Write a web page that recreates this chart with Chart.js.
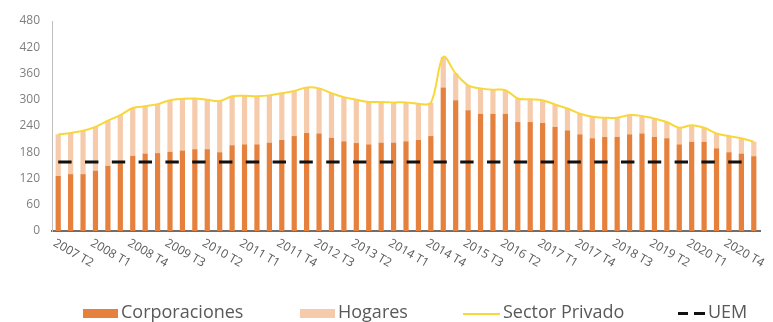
<!DOCTYPE html>
<html>
<head>
<meta charset="utf-8">
<script src="https://cdn.jsdelivr.net/npm/chart.js@4.4.1/dist/chart.umd.min.js"></script>
<style>
    body { margin: 0; background: #fff; }
    #wrap { position: relative; width: 773px; height: 322px; }
    #debt-chart { position: absolute; left: 0; top: 0; }
    .key-text { position: absolute; font-family: 'Open Sans', sans-serif; font-size: 18px; line-height: 24px; color: #595959; white-space: nowrap; }
    .key-mark { position: absolute; }
</style>
</head>
<body>
<div id="wrap">
    <canvas id="debt-chart" width="773" height="322"></canvas>
    <div id="legend"></div>
</div>
<script>
const quarters = [
    '2007 T2', '2007 T3', '2007 T4',
    '2008 T1', '2008 T2', '2008 T3', '2008 T4',
    '2009 T1', '2009 T2', '2009 T3', '2009 T4',
    '2010 T1', '2010 T2', '2010 T3', '2010 T4',
    '2011 T1', '2011 T2', '2011 T3', '2011 T4',
    '2012 T1', '2012 T2', '2012 T3', '2012 T4',
    '2013 T1', '2013 T2', '2013 T3', '2013 T4',
    '2014 T1', '2014 T2', '2014 T3', '2014 T4',
    '2015 T1', '2015 T2', '2015 T3', '2015 T4',
    '2016 T1', '2016 T2', '2016 T3', '2016 T4',
    '2017 T1', '2017 T2', '2017 T3', '2017 T4',
    '2018 T1', '2018 T2', '2018 T3', '2018 T4',
    '2019 T1', '2019 T2', '2019 T3', '2019 T4',
    '2020 T1', '2020 T2', '2020 T3', '2020 T4',
    '2021 T1', '2021 T2',
];

// % del PIB
const corporaciones = [
    126, 130, 130, 138, 149, 155, 172, 177, 178, 181, 184, 187, 187, 180, 196, 198,
    198, 202, 208, 217, 224, 223, 213, 205, 201, 198, 202, 202, 205, 208, 217, 328,
    299, 276, 268, 268, 268, 249, 249, 247, 238, 230, 221, 212, 215, 215, 221, 223,
    215, 212, 198, 204, 204, 189, 180, 177, 171,
];

const hogares = [
    95, 94, 99, 100, 103, 110, 109, 108, 112, 118, 118, 116, 113, 117, 112, 111,
    110, 108, 107, 103, 104, 103, 102, 101, 99, 97, 93, 92, 89, 83, 76, 70,
    61, 57, 58, 55, 54, 54, 52, 52, 51, 50, 47, 49, 44, 44, 44, 40,
    42, 37, 38, 38, 32, 34, 37, 35, 33,
];

const sectorPrivado = [
    221, 224, 229, 238, 252, 265, 281, 285, 290, 299, 302, 303, 300, 297, 308, 309,
    308, 310, 315, 320, 328, 326, 315, 306, 300, 295, 295, 294, 294, 291, 293, 398,
    360, 333, 326, 323, 322, 303, 301, 299, 289, 280, 268, 261, 259, 259, 265, 263,
    257, 249, 236, 242, 236, 223, 217, 212, 204,
];

const uem = [
    158, 158, 158, 158, 158, 158, 158, 158, 158, 158, 158, 158, 158, 158, 158, 158,
    158, 158, 158, 158, 158, 158, 158, 158, 158, 158, 158, 158, 158, 158, 158, 158,
    158, 158, 158, 158, 158, 158, 158, 158, 158, 158, 158, 158, 158, 158, 158, 158,
    158, 158, 158, 158, 158, 158, 158, 158, 158,
];

const yTicks = [0, 60, 120, 180, 240, 300, 360, 420, 480];
const labelEvery = 3;

const colors = {
    corporaciones: '#E5803D',
    hogares: '#F6CBAB',
    privado: '#F8D73A',
    uem: '#111111',
    text: '#595959',
    axis: '#6E6E6E',
};

// rotated quarter labels, hanging down to the right of each tick
const quarterLabels = {
    id: 'quarterLabels',
    afterDraw(chart) {
        const { ctx, scales: { x } } = chart;
        ctx.save();
        ctx.font = "12px 'Open Sans'";
        ctx.fillStyle = colors.text;
        ctx.textAlign = 'left';
        ctx.textBaseline = 'top';
        quarters.forEach((q, i) => {
            if (i % labelEvery) return;
            ctx.save();
            ctx.translate(x.getPixelForValue(i) - 1, x.top + 6);
            ctx.rotate(Math.PI / 6);
            ctx.fillText(q, 0, 0);
            ctx.restore();
        });
        ctx.restore();
    },
};

const chart = new Chart(document.getElementById('debt-chart'), {
    type: 'bar',
    data: {
        labels: quarters,
        datasets: [
            {
                label: 'Corporaciones',
                data: corporaciones,
                backgroundColor: colors.corporaciones,
                stack: 'deuda',
                order: 2,
            },
            {
                label: 'Hogares',
                data: hogares,
                backgroundColor: colors.hogares,
                stack: 'deuda',
                order: 2,
            },
            {
                type: 'line',
                label: 'Sector Privado',
                data: sectorPrivado,
                borderColor: colors.privado,
                borderWidth: 2,
                tension: 0.35,
                pointRadius: 0,
                stack: 'privado',
                order: 1,
            },
            {
                type: 'line',
                label: 'UEM',
                data: uem,
                borderColor: colors.uem,
                borderWidth: 3,
                borderDash: [13.4, 13.4],
                pointRadius: 0,
                stack: 'uem',
                order: 0,
            },
        ],
    },
    options: {
        responsive: false,
        animation: false,
        devicePixelRatio: 1,
        layout: { padding: { top: 21, right: 13, bottom: 0, left: 0 } },
        datasets: {
            bar: { barPercentage: 0.42, categoryPercentage: 1 },
        },
        scales: {
            x: {
                stacked: true,
                grid: { display: false, drawTicks: false },
                border: { display: true, color: colors.axis, width: 2 },
                ticks: { display: false },
                afterFit: scale => { scale.height = 91; },
            },
            y: {
                stacked: true,
                min: 0,
                max: 480,
                grid: { display: false, drawTicks: false },
                border: { display: true, color: '#BFBFBF', width: 1 },
                ticks: {
                    padding: 12,
                    color: '#7F7F7F',
                    font: { family: 'Open Sans', size: 12 },
                },
                afterBuildTicks: scale => { scale.ticks = yTicks.map(v => ({ value: v })); },
                afterFit: scale => { scale.width = 52; },
            },
        },
        plugins: {
            legend: { display: false },
            tooltip: { enabled: false },
        },
    },
    plugins: [quarterLabels],
});

// legend under the chart
const legendItems = [
    { label: 'Corporaciones', kind: 'box', color: colors.corporaciones, left: 83 },
    { label: 'Hogares', kind: 'box', color: colors.hogares, left: 300 },
    { label: 'Sector Privado', kind: 'line', color: colors.privado, left: 463 },
    { label: 'UEM', kind: 'dash', color: colors.uem, left: 678 },
];

const legend = document.getElementById('legend');
legendItems.forEach(item => {
    if (item.kind === 'box') {
        const box = document.createElement('div');
        box.className = 'key-mark';
        Object.assign(box.style, { left: item.left + 'px', top: '309px', width: '35px', height: '9px', background: item.color });
        legend.appendChild(box);
    } else if (item.kind === 'line') {
        const line = document.createElement('div');
        line.className = 'key-mark';
        Object.assign(line.style, { left: item.left + 'px', top: '313px', width: '37px', height: '2px', background: item.color });
        legend.appendChild(line);
    } else {
        [[0, 10], [16, 11]].forEach(([dx, w]) => {
            const dash = document.createElement('div');
            dash.className = 'key-mark';
            Object.assign(dash.style, { left: (item.left + dx) + 'px', top: '312px', width: w + 'px', height: '3px', background: item.color });
            legend.appendChild(dash);
        });
    }
    const text = document.createElement('div');
    text.className = 'key-text';
    text.textContent = item.label;
    const width = item.kind === 'dash' ? 27 : (item.kind === 'line' ? 37 : 35);
    Object.assign(text.style, { left: (item.left + width + 3) + 'px', top: '299px' });
    legend.appendChild(text);
});
</script>
</body>
</html>
